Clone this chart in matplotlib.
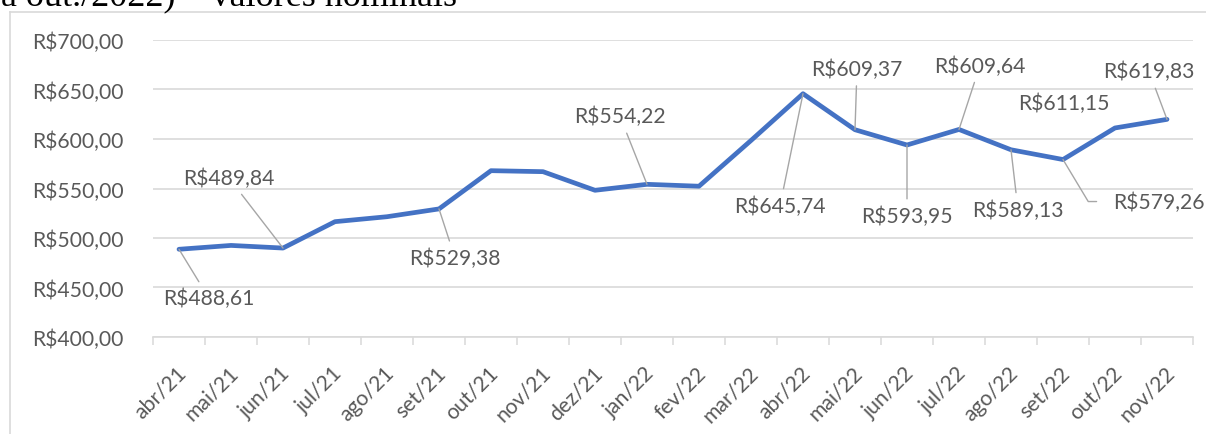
import numpy as np
import matplotlib
matplotlib.use('Agg')
import matplotlib.pyplot as plt
import matplotlib.transforms as mtransforms
from matplotlib.lines import Line2D

# values (R$, nominal)
months = ['abr/21', 'mai/21', 'jun/21', 'jul/21', 'ago/21', 'set/21', 'out/21',
          'nov/21', 'dez/21', 'jan/22', 'fev/22', 'mar/22', 'abr/22', 'mai/22',
          'jun/22', 'jul/22', 'ago/22', 'set/22', 'out/22', 'nov/22']
values = [488.61, 492.5, 489.84, 516.5, 521.5, 529.38, 568.0, 567.0, 548.2,
          554.22, 552.3, 598.5, 645.74, 609.37, 593.95, 609.64, 589.13,
          579.26, 611.15, 619.83]
labeled = [0, 2, 5, 9, 12, 13, 14, 15, 16, 17, 18, 19]
yticks = [400, 450, 500, 550, 600, 650, 700]
title_tail = 'a out./2022) – valores nominais'

# label offsets in pixels (dx, dy) from the point, like the Excel layout
label_offsets = {0: (30, -49), 2: (-54, 70), 5: (16, -49), 9: (-27, 68),
                 12: (-23, -112), 13: (2, 61), 14: (0, -71), 15: (21, 64),
                 16: (7, -60), 17: (96, -42), 18: (-51, 25), 19: (-18, 48)}

LINE_BLUE = '#4472C4'
GRID = '#d9d9d9'
TXT = '#595959'
LEADER = '#a6a6a6'
FONT = 'Lato'
FS = 15.2


def brl(v):
    return 'R$' + f'{v:,.2f}'.replace(',', 'X').replace('.', ',').replace('X', '.')


fig = plt.figure(figsize=(12.06, 4.35), dpi=100)
ax = fig.add_axes([153 / 1206, 1 - 338 / 435, (1193 - 153) / 1206, (338 - 41) / 435])

x = np.arange(len(months))
ax.plot(x, values, color=LINE_BLUE, lw=3.4, solid_joinstyle='round', solid_capstyle='round', zorder=3)

ax.set_xlim(-0.5, len(months) - 0.5)
ax.set_ylim(400, 700)
ax.set_yticks(yticks)
ax.set_yticklabels([brl(v) for v in yticks], fontsize=FS, color=TXT, family=FONT)
ax.tick_params(axis='y', length=0, pad=21)
ax.yaxis.grid(True, color=GRID, lw=1.2)
ax.set_axisbelow(True)

ax.set_xticks(x)
ax.set_xticklabels(months, rotation=45, ha='right', va='top', rotation_mode='anchor',
                   fontsize=FS, color=TXT, family=FONT)
ax.set_xticks(np.arange(-0.5, len(months)), minor=True)
ax.tick_params(axis='x', which='major', length=0, pad=18)
ax.tick_params(axis='x', which='minor', length=5.5, width=1.1, color=GRID)
shift = mtransforms.ScaledTranslation(-3 / 100, 0, fig.dpi_scale_trans)
for lab in ax.get_xticklabels():
    lab.set_transform(lab.get_transform() + shift)

for s in ['top', 'right', 'left']:
    ax.spines[s].set_visible(False)
ax.spines['bottom'].set_color(GRID)
ax.spines['bottom'].set_linewidth(1.2)

for i in labeled:
    dx, dy = label_offsets[i]
    kw = dict(xy=(x[i], values[i]), xytext=(dx, dy), textcoords='offset pixels',
              ha='center', va='center', fontsize=FS, color=TXT, family=FONT, zorder=4)
    if i == 18:
        ax.annotate(brl(values[i]), **kw)
    elif i == 17:
        ax.annotate(brl(values[i]), arrowprops=dict(arrowstyle='-', color=LEADER, lw=1,
                    shrinkA=10, shrinkB=0, connectionstyle='angle,angleA=0,angleB=-59,rad=0'), **kw)
    else:
        ax.annotate(brl(values[i]), arrowprops=dict(arrowstyle='-', color=LEADER, lw=1,
                    shrinkA=3, shrinkB=0), **kw)

# chart frame (only left and top edges fall inside the crop)
fig.add_artist(Line2D([10 / 1206, 10 / 1206], [0, 1 - 12.5 / 435], transform=fig.transFigure, color=GRID, lw=1.2))
fig.add_artist(Line2D([10 / 1206, 1], [1 - 12.5 / 435, 1 - 12.5 / 435], transform=fig.transFigure, color=GRID, lw=1.2))

# cut-off title line of the surrounding document
fig.text(1 / 1206, 1 - 5 / 435, title_tail, family='Liberation Serif', fontsize=26,
         color='black', ha='left', va='baseline')

fig.savefig('out.png', dpi=100)
